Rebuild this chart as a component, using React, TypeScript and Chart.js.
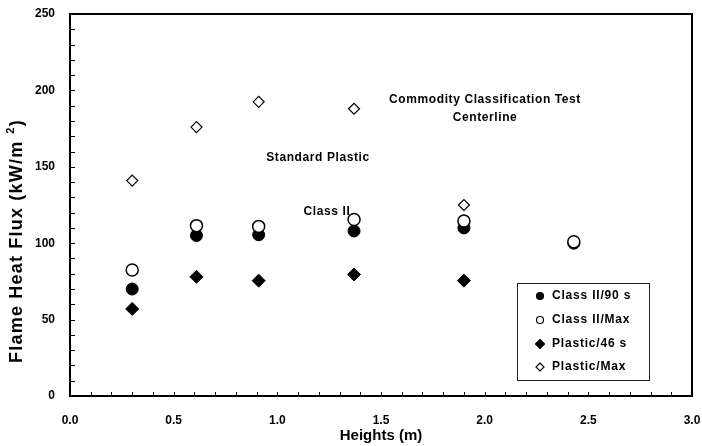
import React, { useEffect, useRef } from "react";
import { Chart, registerables } from "chart.js";
Chart.register(...registerables);

const heights = [0.3, 0.61, 0.91, 1.37, 1.9, 2.43];
const plasticHeights = [0.3, 0.61, 0.91, 1.37, 1.9];
const classII90s = [70, 105, 105.5, 108, 110, 100];
const classIIMax = [82.5, 111.5, 111, 115.5, 114.5, 101];
const plastic46s = [57, 78, 75.5, 79.5, 75.5];
const plasticMax = [141, 176, 192.5, 188, 125];
const seriesNames = ["Class II/90 s", "Class II/Max", "Plastic/46 s", "Plastic/Max"];
const titleLines = ["Commodity Classification Test", "Centerline"];
const xAxisTitle = "Heights (m)";
const yAxisTitleMain = "Flame Heat Flux (kW/m";
const yAxisTitleSup = "2";
const yAxisTitleEnd = ")";
const annotations = [
  { text: "Standard Plastic", x: 318, y: 158 },
  { text: "Class II", x: 327, y: 212 },
];

const FONT = "Arial, 'Liberation Sans', sans-serif";

function pts(xs: number[], ys: number[]) {
  return ys.map((y, i) => ({ x: xs[i], y }));
}

function drawMarker(ctx: CanvasRenderingContext2D, kind: number, x: number, y: number) {
  ctx.save();
  ctx.strokeStyle = "#000";
  ctx.beginPath();
  if (kind === 0 || kind === 1) {
    ctx.arc(x, y, 3.5, 0, Math.PI * 2);
  } else {
    const r = kind === 2 ? 4.5 : 4;
    ctx.moveTo(x, y - r);
    ctx.lineTo(x + r, y);
    ctx.lineTo(x, y + r);
    ctx.lineTo(x - r, y);
    ctx.closePath();
  }
  ctx.fillStyle = kind === 0 || kind === 2 ? "#000" : "#fff";
  ctx.fill();
  ctx.lineWidth = 1.2;
  ctx.stroke();
  ctx.restore();
}

const overlayPlugin = {
  id: "overlay",
  afterDraw(chart: any) {
    const ctx: CanvasRenderingContext2D = chart.ctx;
    const { left, right, top, bottom } = chart.chartArea;
    const xs = chart.scales.x;
    const ys = chart.scales.y;
    ctx.save();
    // frame
    ctx.strokeStyle = "#000";
    ctx.lineWidth = 2;
    ctx.strokeRect(left, top, right - left, bottom - top);
    // minor ticks inside
    ctx.lineWidth = 1;
    ctx.beginPath();
    for (let i = 1; i < 30; i++) {
      const px = Math.round(xs.getPixelForValue(i / 10)) + 0.5;
      ctx.moveTo(px, bottom);
      ctx.lineTo(px, bottom - 4);
    }
    for (let i = 1; i < 25; i++) {
      const py = Math.round(ys.getPixelForValue(i * 10)) + 0.5;
      ctx.moveTo(left, py);
      ctx.lineTo(left + 5, py);
    }
    ctx.stroke();

    ctx.fillStyle = "#000";
    (ctx as any).letterSpacing = "0.6px";
    ctx.font = `bold 12px ${FONT}`;
    ctx.textAlign = "center";
    ctx.textBaseline = "middle";
    ctx.fillText(titleLines[0], 485, 100);
    ctx.fillText(titleLines[1], 485, 118);
    annotations.forEach((a) => ctx.fillText(a.text, a.x, a.y));

    // x title
    (ctx as any).letterSpacing = "0px";
    ctx.font = `bold 15px ${FONT}`;
    ctx.fillText(xAxisTitle, (left + right) / 2, 436);

    // y title
    ctx.save();
    ctx.translate(17, 241);
    ctx.rotate(-Math.PI / 2);
    (ctx as any).letterSpacing = "1.2px";
    ctx.font = `bold 18px ${FONT}`;
    const w1 = ctx.measureText(yAxisTitleMain).width;
    ctx.font = `bold 11px ${FONT}`;
    const w2 = ctx.measureText(yAxisTitleSup).width;
    ctx.font = `bold 18px ${FONT}`;
    const w3 = ctx.measureText(yAxisTitleEnd).width;
    const gap = 7;
    const total = w1 + gap + w2 + w3;
    let cx = -total / 2;
    ctx.textAlign = "left";
    ctx.fillText(yAxisTitleMain, cx, 0);
    cx += w1 + gap;
    ctx.font = `bold 11px ${FONT}`;
    ctx.fillText(yAxisTitleSup, cx, -6);
    cx += w2;
    ctx.font = `bold 18px ${FONT}`;
    ctx.fillText(yAxisTitleEnd, cx, 0);
    ctx.restore();

    // legend
    ctx.lineWidth = 1;
    ctx.strokeStyle = "#222";
    ctx.strokeRect(517.5, 283.5, 132, 97);
    ctx.font = `bold 12px ${FONT}`;
    (ctx as any).letterSpacing = "0.8px";
    ctx.textAlign = "left";
    ctx.textBaseline = "middle";
    const rows = [296, 320, 344, 367];
    seriesNames.forEach((name, i) => {
      drawMarker(ctx, i, 540, rows[i]);
      ctx.fillStyle = "#000";
      ctx.fillText(name, 552, rows[i]);
    });
    ctx.restore();
  },
};

export default function App() {
  const ref = useRef<HTMLCanvasElement | null>(null);
  useEffect(() => {
    if (!ref.current) return;
    const chart = new Chart(ref.current, {
      type: "scatter",
      data: {
        datasets: [
          {
            label: seriesNames[0],
            data: pts(heights, classII90s),
            pointStyle: "circle",
            pointRadius: 6,
            backgroundColor: "#000",
            borderColor: "#000",
            borderWidth: 1,
            order: 1,
          },
          {
            label: seriesNames[1],
            data: pts(heights, classIIMax),
            pointStyle: "circle",
            pointRadius: 6,
            backgroundColor: "#fff",
            borderColor: "#000",
            borderWidth: 1.5,
            order: 0,
          },
          {
            label: seriesNames[2],
            data: pts(plasticHeights, plastic46s),
            pointStyle: "rectRot",
            pointRadius: 6.5,
            backgroundColor: "#000",
            borderColor: "#000",
            borderWidth: 1,
            order: 1,
          },
          {
            label: seriesNames[3],
            data: pts(plasticHeights, plasticMax),
            pointStyle: "rectRot",
            pointRadius: 5.5,
            backgroundColor: "#fff",
            borderColor: "#000",
            borderWidth: 1.2,
            order: 1,
          },
        ],
      },
      options: {
        animation: false,
        responsive: false,
        devicePixelRatio: 1,
        layout: { padding: { left: 0, right: 10, top: 14, bottom: 0 } },
        plugins: { legend: { display: false }, tooltip: { enabled: false } },
        scales: {
          x: {
            type: "linear",
            min: 0,
            max: 3,
            grid: { display: false, drawTicks: false },
            border: { display: false },
            ticks: {
              stepSize: 0.5,
              padding: 17,
              color: "#000",
              font: { family: FONT, size: 12, weight: "bold" },
              callback: (v: any) => Number(v).toFixed(1),
            },
            afterFit: (s: any) => {
              s.height = 50;
              s.paddingLeft = 0;
              s.paddingRight = 0;
            },
          },
          y: {
            type: "linear",
            min: 0,
            max: 250,
            grid: { display: false, drawTicks: false },
            border: { display: false },
            ticks: {
              stepSize: 50,
              padding: 15,
              color: "#000",
              font: { family: FONT, size: 12, weight: "bold" },
            },
            afterFit: (s: any) => {
              s.width = 70;
              s.paddingTop = 0;
              s.paddingBottom = 0;
            },
          },
        },
      } as any,
      plugins: [overlayPlugin],
    });
    return () => chart.destroy();
  }, []);
  return (
    <div style={{ position: "fixed", left: 0, top: 0, width: 702, height: 446, background: "#fff" }}>
      <canvas ref={ref} width={702} height={446} style={{ display: "block" }} />
    </div>
  );
}
